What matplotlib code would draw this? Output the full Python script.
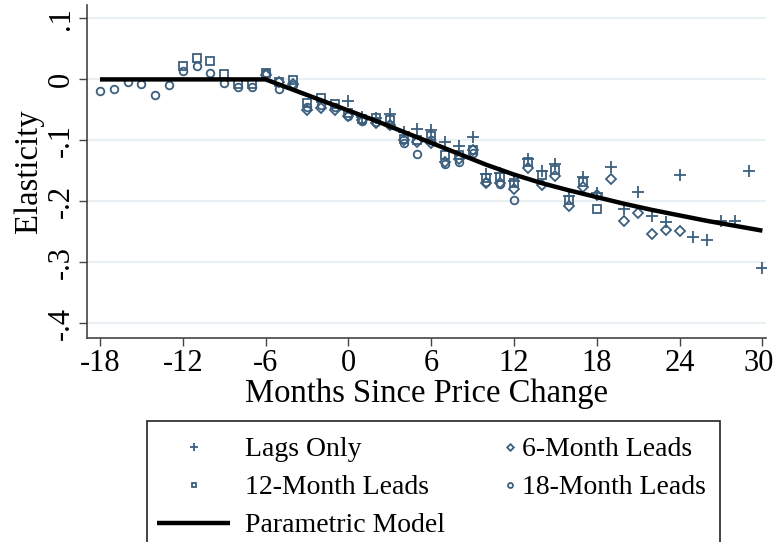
import numpy as np
import matplotlib
matplotlib.use("Agg")
import matplotlib.pyplot as plt
import matplotlib.transforms as mtransforms
from matplotlib.patches import Rectangle

# Data
lagsMonths = list(range(0, 31))
lagsValues = [-0.035, -0.062, -0.063, -0.057, -0.086, -0.082, -0.083, -0.103, -0.110, -0.094,
              -0.155, -0.154, -0.166, -0.131, -0.150, -0.138, -0.191, -0.160, -0.186, -0.144,
              -0.213, -0.184, -0.224, -0.233, -0.157, -0.259, -0.263, -0.232, -0.232, -0.150,
              -0.310]

lead6Months = list(range(-6, 25))
lead6Values = [0.008, -0.005, -0.008, -0.050, -0.047, -0.050, -0.060, -0.067, -0.072, -0.075,
               -0.100, -0.102, -0.105, -0.135, -0.130, -0.115, -0.170, -0.170, -0.179, -0.146,
               -0.173, -0.158, -0.208, -0.176, -0.190, -0.163, -0.232, -0.219, -0.254, -0.247,
               -0.248]

lead12Months = list(range(-12, 19))
lead12Values = [0.022, 0.035, 0.030, 0.009, -0.008, -0.008, 0.011, -0.004, -0.001, -0.038,
                -0.030, -0.040, -0.055, -0.065, -0.063, -0.066, -0.098, -0.100, -0.092, -0.124,
                -0.124, -0.115, -0.162, -0.160, -0.170, -0.136, -0.157, -0.148, -0.198, -0.168,
                -0.213]

lead18Months = list(range(-18, 13))
lead18Values = [-0.019, -0.016, -0.005, -0.008, -0.025, -0.009, 0.014, 0.022, 0.011, -0.006,
                -0.013, -0.012, 0.010, -0.016, -0.009, -0.045, -0.042, -0.045, -0.060, -0.069,
                -0.070, -0.075, -0.105, -0.123, -0.100, -0.138, -0.135, -0.120, -0.168, -0.172,
                -0.197]

modelMonths = [-18, -12, -6, -4, -2, 0, 2, 4, 6, 8, 10, 12, 14, 16, 18, 20, 22, 24, 26, 28, 30]
modelValues = [0.0, 0.0, 0.0, -0.017, -0.034, -0.051, -0.068, -0.086, -0.104, -0.122, -0.140,
               -0.156, -0.170, -0.182, -0.193, -0.204, -0.214, -0.223, -0.232, -0.240, -0.248]

xTicks = [-18, -12, -6, 0, 6, 12, 18, 24, 30]
yTicks = [0.1, 0.0, -0.1, -0.2, -0.3, -0.4]
yTickLabels = [".1", "0", "-.1", "-.2", "-.3", "-.4"]

# Style
plt.rcParams['font.family'] = ['Liberation Serif', 'DejaVu Serif']
markerColor = '#3b5f7d'
titleSize = 23.5
tickSize = 22
legendSize = 20

fig = plt.figure(figsize=(7.75, 5.42), dpi=100)
ax = fig.add_axes([87 / 775, 1 - 338 / 542, (766 - 87) / 775, (338 - 5) / 542])

# Scatter series
mk = dict(linestyle='none', color=markerColor, markerfacecolor='none', markeredgewidth=1.3)
lagsLine, = ax.plot(lagsMonths, lagsValues, marker='+', markersize=8, label='Lags Only', **mk)
lead6Line, = ax.plot(lead6Months, lead6Values, marker='D', markersize=5.2, label='6-Month Leads', **mk)
lead12Line, = ax.plot(lead12Months, lead12Values, marker='s', markersize=5.5, label='12-Month Leads', **mk)
lead18Line, = ax.plot(lead18Months, lead18Values, marker='o', markersize=5.5, label='18-Month Leads', **mk)
modelLine, = ax.plot(modelMonths, modelValues, color='black', linewidth=3.2, label='Parametric Model',
                     solid_capstyle='butt', zorder=5)

# Axes
ax.set_xlim(-18.94, 30.26)
ax.set_ylim(-0.424, 0.122)
ax.set_xticks(xTicks)
ax.set_xticklabels([str(t) for t in xTicks], fontsize=tickSize)
ax.set_yticks(yTicks)
ax.set_yticklabels(yTickLabels, fontsize=tickSize, rotation=90, va='center')
ax.set_xlabel("Months Since Price Change", fontsize=titleSize, labelpad=0)
ax.set_ylabel("Elasticity", fontsize=titleSize, labelpad=2)
ax.tick_params(direction='out', length=6, width=1, color='#444444', pad=2)
for side in ['top', 'right']:
    ax.spines[side].set_visible(False)
for side in ['left', 'bottom']:
    ax.spines[side].set_color('#444444')
    ax.spines[side].set_linewidth(1.2)
for yv in yTicks:
    ax.axhline(yv, color='#e9f0f3', linewidth=1.5, zorder=0)

# keep the last x tick label inside the figure edge
lastLabel = ax.get_xticklabels()[-1]
lastLabel.set_transform(lastLabel.get_transform() +
                        mtransforms.ScaledTranslation(-4 / 100, 0, fig.dpi_scale_trans))

# Legend box (cut off at the bottom like the reference)
fig.add_artist(Rectangle((147 / 775, -0.05), (720 - 147) / 775, 1 - 421 / 542 + 0.05,
                         transform=fig.transFigure, facecolor='white', edgecolor='#222222',
                         linewidth=1.2))
leg1 = fig.legend(handles=[lagsLine, lead12Line, modelLine], loc='upper left',
                  bbox_to_anchor=(157 / 775, 1 - 437 / 542), frameon=False, fontsize=legendSize,
                  handlelength=2.63, handletextpad=0.53, labelspacing=0.45, markerscale=0.65,
                  borderaxespad=0, borderpad=0)
leg2 = fig.legend(handles=[lead6Line, lead18Line], loc='upper left',
                  bbox_to_anchor=(503 / 775, 1 - 437 / 542), frameon=False, fontsize=legendSize,
                  handlelength=0.5, handletextpad=0.2, labelspacing=0.45, markerscale=0.65,
                  borderaxespad=0, borderpad=0)

fig.savefig("out.png", dpi=100)
plt.close(fig)
